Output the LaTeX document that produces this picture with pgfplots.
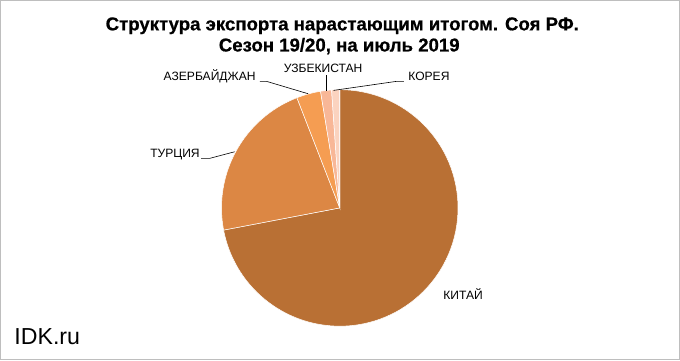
\documentclass[border=0pt]{standalone}
\usepackage{pgfplots}
\pgfplotsset{compat=1.18}
\usepackage{pgfplotstable}
\usepackage{fontspec}
\setmainfont{Liberation Sans}
\newfontfamily\titlefont[FakeBold=0.6]{Liberation Sans}

\definecolor{slice0}{HTML}{B97034}
\definecolor{slice1}{HTML}{DC8744}
\definecolor{slice2}{HTML}{F59D52}
\definecolor{slice3}{HTML}{F8B797}
\definecolor{slice4}{HTML}{FBD3BF}
\definecolor{frame}{RGB}{190,190,190}

\pgfplotstableread[col sep=comma]{
label,value
КИТАЙ,72.0
ТУРЦИЯ,22.1
АЗЕРБАЙДЖАН,3.3
УЗБЕКИСТАН,1.5
КОРЕЯ,1.1
}\piedata

\begin{document}
\begin{tikzpicture}
% cumulative angles (clockwise from 12 o'clock)
\xdef\total{0}
\foreach \i in {0,...,4}{
  \pgfplotstablegetelem{\i}{value}\of\piedata
  \pgfmathsetmacro\t{\total+\pgfplotsretval}
  \xdef\total{\t}
}
\xdef\cur{90}
\foreach \i in {0,...,4}{
  \pgfplotstablegetelem{\i}{value}\of\piedata
  \expandafter\xdef\csname aS\i\endcsname{\cur}
  \pgfmathsetmacro\nxt{\cur-(360/\total)*\pgfplotsretval}
  \xdef\cur{\nxt}
  \expandafter\xdef\csname aE\i\endcsname{\cur}
}
\begin{axis}[
  scale only axis, width=680pt, height=367pt,
  xmin=0, xmax=680, ymin=0, ymax=367,
  hide axis, clip=false,
]
\draw[frame, line width=1.3pt] (axis cs:2.5,8) rectangle (axis cs:677,364.5);
\pgfplotsinvokeforeach{0,...,4}{
  \fill[slice#1, draw=white, line width=0.5pt]
    (axis cs:339.5,158.5) -- ++(\csname aS#1\endcsname:117.5pt)
    arc[start angle=\csname aS#1\endcsname, end angle=\csname aE#1\endcsname, radius=117.5pt] -- cycle;
}
% leader lines
\draw[black, line width=0.6pt] (axis cs:201.7,207.7) -- (axis cs:210,207.7) -- (axis cs:235,214.3);
\draw[black, line width=0.6pt] (axis cs:260,284.3) -- (axis cs:266.7,284.3) -- (axis cs:308,272);
\draw[black, line width=0.6pt] (axis cs:325.7,290.3) -- (axis cs:325.7,274.7);
\draw[black, line width=0.6pt] (axis cs:333.3,275.3) -- (axis cs:396,284.3) -- (axis cs:403.3,284.3);
% labels
\node[anchor=east, font=\fontsize{12}{14}\selectfont, inner sep=0pt] at (axis cs:200.5,212) {ТУРЦИЯ};
\node[anchor=east, font=\fontsize{12}{14}\selectfont, inner sep=0pt] at (axis cs:256,289) {АЗЕРБАЙДЖАН};
\node[anchor=center, font=\fontsize{12}{14}\selectfont, inner sep=0pt] at (axis cs:323,297.7) {УЗБЕКИСТАН};
\node[anchor=west, font=\fontsize{12}{14}\selectfont, inner sep=0pt] at (axis cs:407.5,289) {КОРЕЯ};
\node[anchor=center, font=\fontsize{12}{14}\selectfont, inner sep=0pt] at (axis cs:462,73) {КИТАЙ};
% title
\node[anchor=base, font=\titlefont\bfseries\fontsize{18.5}{20}\selectfont, inner sep=0pt] at (axis cs:342,335) {Структура экспорта нарастающим итогом. Соя РФ.};
\node[anchor=base, font=\titlefont\bfseries\fontsize{18.5}{20}\selectfont, inner sep=0pt] at (axis cs:339,314) {Сезон 19/20, на июль 2019};
% watermark
\node[anchor=west, font=\fontsize{23}{26}\selectfont, inner sep=0pt] at (axis cs:16,30.3) {IDK.ru};
\end{axis}
\end{tikzpicture}
\end{document}
